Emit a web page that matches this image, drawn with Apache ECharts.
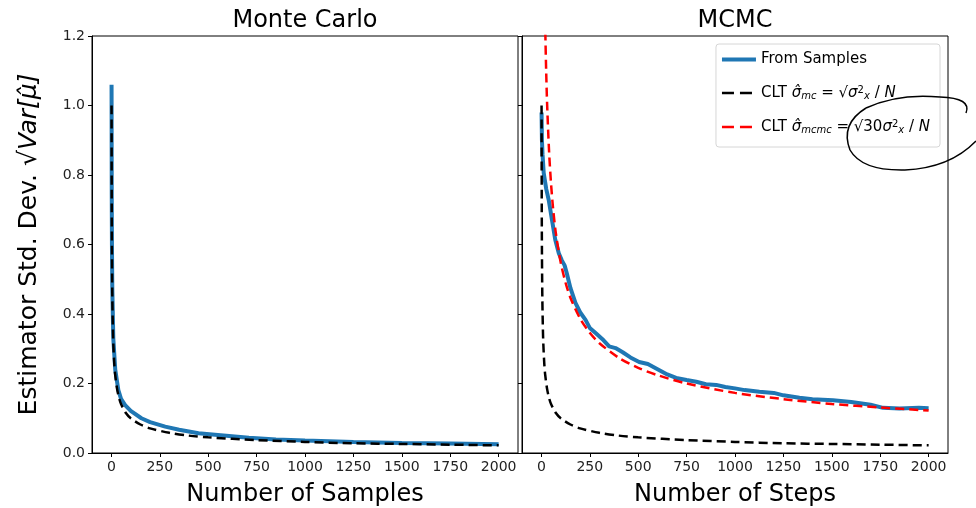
<!DOCTYPE html>
<html>
<head>
<meta charset="utf-8">
<script src="https://cdn.jsdelivr.net/npm/echarts@6/dist/echarts.min.js"></script>
<style>
  html, body { margin: 0; padding: 0; background: #fff; }
  #chart { width: 976px; height: 508px; }
</style>
</head>
<body>
<div id="chart"></div>
<script>
// x tick labels (both panels)
const xTicks = [0, 250, 500, 750, 1000, 1250, 1500, 1750, 2000]

// Monte Carlo: estimator std from samples
const mcN = [1, 2, 3, 5, 10, 20, 36, 50, 71, 100, 155, 200, 278, 350, 450, 550, 710, 850, 1000, 1250, 1500, 1750, 2000]
const mcSamples = [1.06, 0.74, 0.6, 0.47, 0.33, 0.24, 0.181, 0.156, 0.138, 0.121, 0.1, 0.089, 0.076, 0.067, 0.057, 0.052, 0.044, 0.039, 0.036, 0.032, 0.029, 0.027, 0.025]

// CLT sigma_mc (same in both panels)
const cltN = [1, 2, 3, 5, 8, 10, 15, 20, 30, 40, 50, 75, 100, 150, 200, 300, 400, 500, 750, 1000, 1250, 1500, 1750, 2000]
const cltMc = [1.0, 0.707, 0.577, 0.447, 0.354, 0.316, 0.258, 0.224, 0.183, 0.158, 0.141, 0.115, 0.1, 0.082, 0.071, 0.058, 0.05, 0.045, 0.037, 0.032, 0.028, 0.026, 0.024, 0.022]

// MCMC: estimator std from samples
const mcmcN = [1, 3, 6, 12, 25, 38, 55, 72, 90, 105, 120, 131, 150, 176, 200, 228, 250, 280, 320, 350, 383, 420, 460, 505, 550, 600, 650, 696, 750, 800, 850, 903, 950, 1000, 1050, 1126, 1200, 1250, 1333, 1400, 1506, 1600, 1700, 1765, 1850, 1950, 2000]
const mcmcSamples = [0.98, 0.9, 0.86, 0.806, 0.76, 0.728, 0.67, 0.613, 0.575, 0.555, 0.54, 0.518, 0.475, 0.432, 0.405, 0.383, 0.36, 0.345, 0.325, 0.307, 0.302, 0.29, 0.275, 0.262, 0.256, 0.241, 0.226, 0.216, 0.21, 0.205, 0.198, 0.196, 0.19, 0.186, 0.181, 0.176, 0.173, 0.166, 0.159, 0.155, 0.152, 0.147, 0.139, 0.13, 0.128, 0.13, 0.129]

// CLT sigma_mcmc
const mcmcCltN = [15, 20, 25, 30, 40, 50, 60, 75, 100, 125, 150, 200, 250, 300, 400, 500, 600, 750, 1000, 1250, 1500, 1750, 2000]
const cltMcmc = [1.414, 1.225, 1.095, 1.0, 0.866, 0.775, 0.707, 0.632, 0.548, 0.49, 0.447, 0.387, 0.346, 0.316, 0.274, 0.245, 0.224, 0.2, 0.173, 0.155, 0.141, 0.131, 0.122]

function pairs(xs, ys) {
  return xs.map((x, i) => [x, ys[i]])
}

const FONT = 'DejaVu Sans'
const BLUE = '#1f77b4'

const chart = echarts.init(document.getElementById('chart'))

function xAxisOf(idx, name) {
  return {
    gridIndex: idx,
    type: 'value',
    min: -100,
    max: 2100,
    name: name,
    nameLocation: 'middle',
    nameGap: 30,
    nameTextStyle: { fontFamily: FONT, fontSize: 24, color: '#000' },
    axisLine: { show: true, onZero: false, lineStyle: { color: '#000', width: 1 } },
    axisTick: { show: true, length: 4, customValues: xTicks, lineStyle: { color: '#000' } },
    axisLabel: { customValues: xTicks, fontFamily: FONT, fontSize: 14, color: '#222', margin: 7,
      formatter: v => String(v) },
    splitLine: { show: false }
  }
}

function yAxisOf(idx) {
  return {
    gridIndex: idx,
    type: 'value',
    min: 0,
    max: 1.2,
    interval: 0.2,
    name: idx === 0 ? 'Estimator Std. Dev. √{it|Var[μ̂]}' : '',
    nameLocation: 'middle',
    nameGap: 50,
    nameTextStyle: {
      fontFamily: FONT, fontSize: 25, color: '#000',
      rich: { it: { fontFamily: FONT, fontSize: 25, fontStyle: 'italic', color: '#000' } }
    },
    axisLine: { show: true, onZero: false, lineStyle: { color: '#000', width: 1 } },
    axisTick: { show: true, length: 4, lineStyle: { color: '#000' } },
    axisLabel: {
      show: idx === 0,
      fontFamily: FONT, fontSize: 14, color: '#222', margin: 7,
      formatter: v => v.toFixed(1)
    },
    splitLine: { show: false }
  }
}

const richLegend = {
  it: { fontFamily: FONT, fontSize: 15, fontStyle: 'italic', color: '#000' },
  sub: { fontFamily: FONT, fontSize: 10, fontStyle: 'italic', color: '#000', verticalAlign: 'bottom', padding: [6, 0, 0, 0] },
  sup: { fontFamily: FONT, fontSize: 10, color: '#000', verticalAlign: 'top', padding: [0, 0, 6, 0] },
  t: { fontFamily: FONT, fontSize: 15, color: '#000' }
}

// hand-drawn loop around the last legend formula
function stroke(x1, y1, cx, cy, x2, y2) {
  return {
    type: 'bezierCurve',
    shape: { x1: x1, y1: y1, cpx1: cx, cpy1: cy, x2: x2, y2: y2 },
    style: { fill: null, stroke: '#000', lineWidth: 1.5 },
    z: 100
  }
}

const option = {
  animation: false,
  backgroundColor: '#fff',
  title: [
    { text: 'Monte Carlo', left: 300, top: 4, textAlign: 'center',
      textStyle: { fontFamily: FONT, fontSize: 24, fontWeight: 'normal', color: '#000' } },
    { text: 'MCMC', left: 730, top: 4, textAlign: 'center',
      textStyle: { fontFamily: FONT, fontSize: 24, fontWeight: 'normal', color: '#000' } }
  ],
  grid: [
    { left: 92, top: 36, width: 426, height: 417, outerBoundsMode: 'none', show: true, borderColor: '#000', borderWidth: 1, backgroundColor: 'transparent' },
    { left: 522, top: 36, width: 426, height: 417, outerBoundsMode: 'none', show: true, borderColor: '#000', borderWidth: 1, backgroundColor: 'transparent' }
  ],
  xAxis: [xAxisOf(0, 'Number of Samples'), xAxisOf(1, 'Number of Steps')],
  yAxis: [yAxisOf(0), yAxisOf(1)],
  legend: {
    data: [
      { name: 'From Samples', lineStyle: { width: 4 } },
      { name: 'CLT mc', lineStyle: { width: 2.5, type: [12, 6] } },
      { name: 'CLT mcmc', lineStyle: { width: 2.5, type: [12, 6] } }
    ],
    orient: 'vertical',
    right: 36,
    top: 44,
    itemWidth: 34,
    itemHeight: 12,
    itemGap: 18,
    padding: [8, 10, 12, 4],
    backgroundColor: '#fff',
    borderColor: '#d6d6d6',
    borderWidth: 1,
    borderRadius: 3,
    itemStyle: { opacity: 0 },
    textStyle: { fontFamily: FONT, fontSize: 15, color: '#000', rich: richLegend },
    formatter: function (name) {
      if (name === 'CLT mc') {
        return '{t|CLT }{it|σ̂}{sub|mc}{t| = √}{it|σ}{sup|2}{sub|x}{t| / }{it|N}'
      }
      if (name === 'CLT mcmc') {
        return '{t|CLT }{it|σ̂}{sub|mcmc}{t| = √30}{it|σ}{sup|2}{sub|x}{t| / }{it|N}'
      }
      return name
    }
  },
  graphic: [
    stroke(966, 113, 972, 98, 940, 97),
    stroke(940, 97, 898, 93, 866, 108),
    stroke(866, 108, 840, 124, 850, 150),
    stroke(850, 150, 862, 171, 905, 170),
    stroke(905, 170, 950, 168, 976, 141)
  ],
  series: [
    {
      name: 'From Samples', type: 'line', xAxisIndex: 0, yAxisIndex: 0,
      data: pairs(mcN, mcSamples), showSymbol: false, symbol: 'none',
      lineStyle: { color: BLUE, width: 4 }, itemStyle: { color: BLUE }, z: 2
    },
    {
      name: 'CLT mc', type: 'line', xAxisIndex: 0, yAxisIndex: 0,
      data: pairs(cltN, cltMc), showSymbol: false, symbol: 'none', smooth: 0.3,
      lineStyle: { color: '#000', width: 2.5, type: [9, 5] }, itemStyle: { color: '#000' }, z: 3
    },
    {
      name: 'From Samples', type: 'line', xAxisIndex: 1, yAxisIndex: 1,
      data: pairs(mcmcN, mcmcSamples), showSymbol: false, symbol: 'none',
      lineStyle: { color: BLUE, width: 4 }, itemStyle: { color: BLUE }, z: 2
    },
    {
      name: 'CLT mc', type: 'line', xAxisIndex: 1, yAxisIndex: 1,
      data: pairs(cltN, cltMc), showSymbol: false, symbol: 'none', smooth: 0.3,
      lineStyle: { color: '#000', width: 2.5, type: [9, 5] }, itemStyle: { color: '#000' }, z: 3
    },
    {
      name: 'CLT mcmc', type: 'line', xAxisIndex: 1, yAxisIndex: 1,
      data: pairs(mcmcCltN, cltMcmc), showSymbol: false, symbol: 'none', smooth: 0.3,
      lineStyle: { color: '#ff0000', width: 2.5, type: [9, 5] }, itemStyle: { color: '#ff0000' }, z: 4
    }
  ]
}

chart.setOption(option)
</script>
</body>
</html>
